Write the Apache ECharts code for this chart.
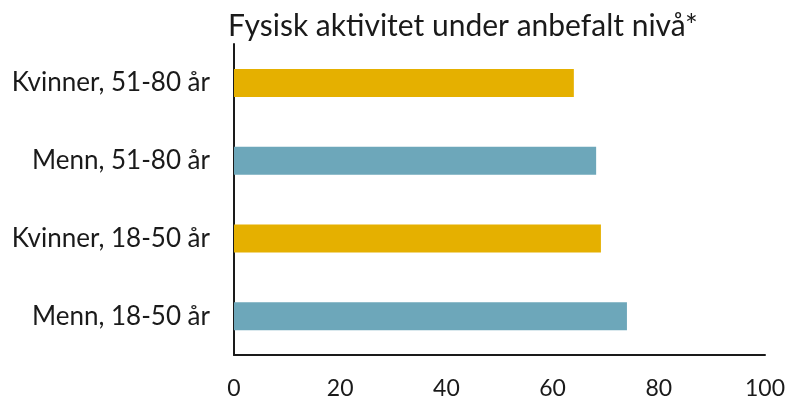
<!DOCTYPE html>
<html>
<head>
<meta charset="utf-8">
<script src="https://cdn.jsdelivr.net/npm/echarts@6/dist/echarts.min.js"></script>
<style>
  html, body { margin: 0; padding: 0; background: #fff; }
  #chart { width: 791px; height: 404px; }
</style>
</head>
<body>
<div id="chart"></div>
<script>
// data
const categories = ["Kvinner, 51-80 år", "Menn, 51-80 år", "Kvinner, 18-50 år", "Menn, 18-50 år"];
const values = [64.0, 68.2, 69.1, 74.0];
const barColors = ["#E5B000", "#6DA7BA", "#E5B000", "#6DA7BA"];
const xTicks = [0, 20, 40, 60, 80, 100];

const FONT = "Lato, 'Noto Sans', sans-serif";

const chart = echarts.init(document.getElementById("chart"), null, { renderer: "canvas" });

chart.setOption({
  backgroundColor: "#ffffff",
  animation: false,
  title: {
    text: "Fysisk aktivitet under anbefalt nivå*",
    left: 223,
    top: 6,
    textStyle: {
      fontFamily: FONT,
      fontWeight: "normal",
      fontSize: 30,
      color: "#1a1a1a",
    },
  },
  grid: {
    left: 234,
    right: 26,
    top: 44,
    bottom: 49,
    containLabel: false,
  },
  xAxis: {
    type: "value",
    min: xTicks[0],
    max: xTicks[xTicks.length - 1],
    interval: 20,
    axisLine: { show: true, lineStyle: { color: "#1a1a1a", width: 2 } },
    axisTick: { show: false },
    splitLine: { show: false },
    axisLabel: {
      margin: 22,
      fontFamily: FONT,
      fontSize: 23,
      color: "#1a1a1a",
    },
  },
  yAxis: {
    type: "category",
    inverse: true,
    data: categories,
    axisLine: { show: true, lineStyle: { color: "#1a1a1a", width: 2 } },
    axisTick: { show: false },
    axisLabel: {
      margin: 24,
      fontFamily: FONT,
      fontSize: 26,
      color: "#1a1a1a",
    },
  },
  series: [
    {
      type: "bar",
      barWidth: 28,
      data: values.map((v, i) => ({ value: v, itemStyle: { color: barColors[i] } })),
    },
  ],
});
</script>
</body>
</html>
